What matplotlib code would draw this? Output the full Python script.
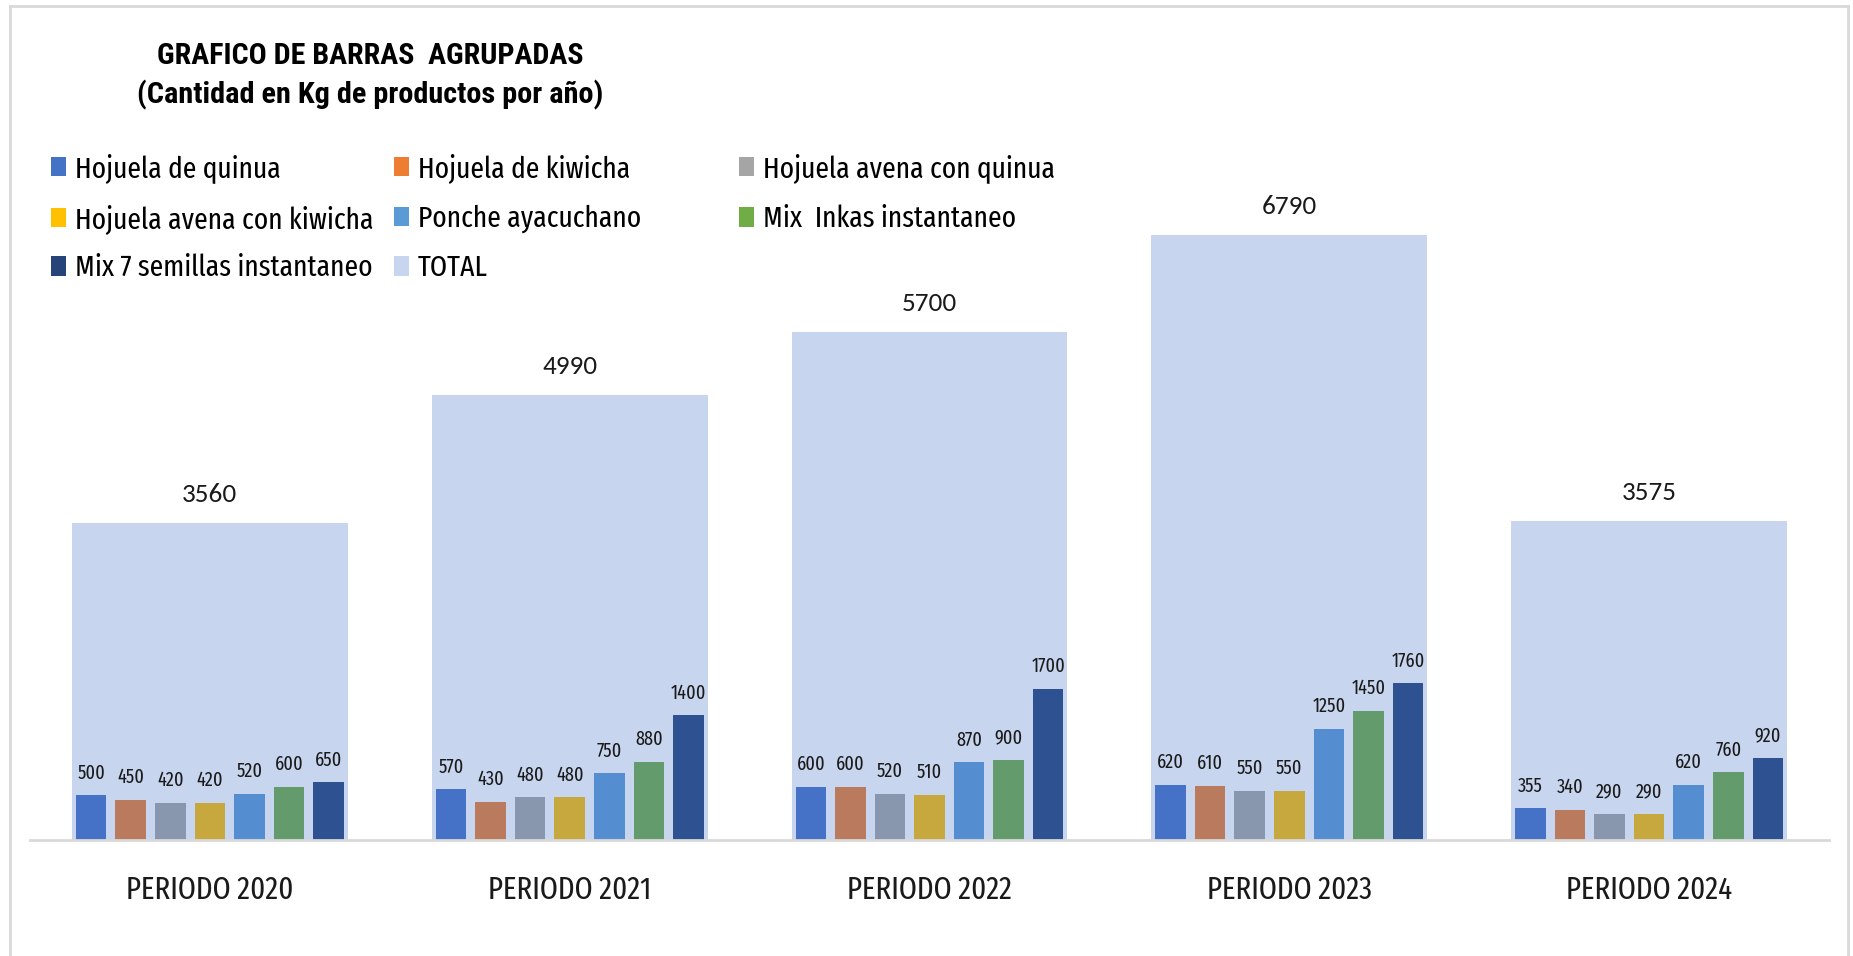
import numpy as np
import matplotlib
matplotlib.use('Agg')
import matplotlib.pyplot as plt
from matplotlib import font_manager
from matplotlib.patches import Patch
from matplotlib.lines import Line2D

# datos (Kg por año)
periodos = ['PERIODO 2020', 'PERIODO 2021', 'PERIODO 2022', 'PERIODO 2023', 'PERIODO 2024']
productos = ['Hojuela de quinua', 'Hojuela de kiwicha', 'Hojuela avena con quinua',
             'Hojuela avena con kiwicha', 'Ponche ayacuchano', 'Mix  Inkas instantaneo',
             'Mix 7 semillas instantaneo']
quinua = [500, 570, 600, 620, 355]
kiwicha = [450, 430, 600, 610, 340]
avena_quinua = [420, 480, 520, 550, 290]
avena_kiwicha = [420, 480, 510, 550, 290]
ponche = [520, 750, 870, 1250, 620]
mix_inkas = [600, 880, 900, 1450, 760]
mix_7 = [650, 1400, 1700, 1760, 920]
total = [3560, 4990, 5700, 6790, 3575]

series = [quinua, kiwicha, avena_quinua, avena_kiwicha, ponche, mix_inkas, mix_7]
bar_colors = ['#4571C6', '#BA7A5E', '#8896AE', '#C7A83E', '#558ED0', '#639B6D', '#2D5191']
legend_colors = ['#4472C4', '#ED7D31', '#A5A5A5', '#FFC000', '#5B9BD5', '#70AD47', '#264478']
total_color = '#C7D5EE'


def pick(names):
    for n in names:
        try:
            font_manager.findfont(font_manager.FontProperties(family=n), fallback_to_default=False)
            return n
        except Exception:
            pass
    return 'DejaVu Sans'


calibri = pick(['Carlito', 'Lato'])
squeezed = pick(['Fira Sans Extra Condensed', 'Fira Sans Condensed', 'Roboto Condensed'])
narrow = pick(['Roboto Condensed', 'PT Sans Narrow', 'Liberation Sans'])

W, H = 1853, 956
fig = plt.figure(figsize=(W / 100, H / 100), dpi=100)
renderer = fig.canvas.get_renderer()


def fit_size(text, family, target_px, weight='normal', base=20.0):
    # tamaño de fuente para que el texto ocupe target_px de ancho
    t = fig.text(0, 0, text, family=family, fontsize=base, fontweight=weight)
    w = t.get_window_extent(renderer=renderer).width
    t.remove()
    return base * target_px / w


fs_title = fit_size('GRAFICO DE BARRAS  AGRUPADAS', narrow, 426, 'bold')
fs_title2 = fit_size('(Cantidad en Kg de productos por año)', narrow, 466, 'bold')
fs_leg = fit_size('Hojuela de quinua', squeezed, 206)
fs_period = fit_size('PERIODO 2020', squeezed, 168)
fs_total = fit_size('3560', calibri, 55)
fs_small = fit_size('500', squeezed, 27.7)

# marco
border = dict(color='#D9D9D9', lw=2, transform=fig.transFigure)
fig.add_artist(Line2D([10 / W, 1848 / W], [1 - 6 / H, 1 - 6 / H], **border))
fig.add_artist(Line2D([10 / W, 10 / W], [0, 1 - 6 / H], **border))
fig.add_artist(Line2D([1848 / W, 1848 / W], [0, 1 - 6 / H], **border))

ax = fig.add_axes([30 / W, 1 - 840 / H, (1829 - 30) / W, (840 - 140) / H])
ax.set_xlim(-0.5, 4.5)
ax.set_ylim(0, 700 / 0.0891)

x = np.arange(len(periodos))
ax.bar(x, total, width=0.767, color=total_color, zorder=1)
for xi, v in zip(x, total):
    ax.annotate(str(v), (xi, v), xytext=(0, 20.5), textcoords='offset points',
                ha='center', va='center', fontsize=fs_total, family=calibri, color='#1a1a1a')

step = 0.11
for i, (vals, c) in enumerate(zip(series, bar_colors)):
    pos = x + (i - 3) * step
    ax.bar(pos, vals, width=0.0848, color=c, zorder=2)
    for xi, v in zip(pos, vals):
        ax.annotate(str(v), (xi, v), xytext=(0, 16), textcoords='offset points',
                    ha='center', va='center', fontsize=fs_small, family=squeezed, color='#1a1a1a')

for s in ['top', 'right', 'left']:
    ax.spines[s].set_visible(False)
ax.spines['bottom'].set_color('#D9D9D9')
ax.spines['bottom'].set_linewidth(2)
ax.set_yticks([])
ax.set_xticks([])
for xi, lab in zip(x, periodos):
    ax.annotate(lab, (xi, 0), xytext=(0, -36), textcoords='offset points',
                ha='center', va='center', fontsize=fs_period, family=squeezed, color='#1a1a1a')

# titulo
fig.text(370 / W, 1 - 56 / H, 'GRAFICO DE BARRAS  AGRUPADAS', ha='center', va='center',
         fontsize=fs_title, fontweight='bold', family=narrow)
fig.text(370 / W, 1 - 95 / H, '(Cantidad en Kg de productos por año)', ha='center', va='center',
         fontsize=fs_title2, fontweight='bold', family=narrow)

# leyenda: una celda por entrada (3 columnas, orden por filas)
labels = productos + ['TOTAL']
colors = legend_colors + [total_color]
col_x = [51, 394, 739]
row_y = [168, 219, 268]
spx = fs_leg * 100 / 72
for k, (lab, c) in enumerate(zip(labels, colors)):
    r, cc = divmod(k, 3)
    fig.legend([Patch(facecolor=c, edgecolor='none')], [lab], loc='center left',
               bbox_to_anchor=(col_x[cc] / W, 1 - row_y[r] / H), frameon=False,
               prop={'family': squeezed, 'size': fs_leg}, handlelength=15 / spx,
               handleheight=19 / spx, handletextpad=9 / spx,
               borderpad=0, borderaxespad=0)

fig.savefig('out.png', dpi=100)
